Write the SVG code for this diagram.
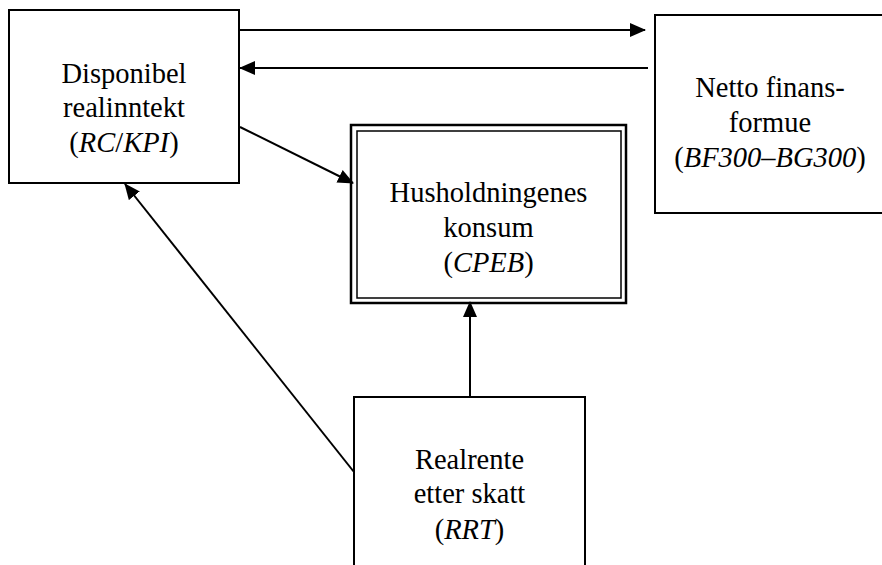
<svg xmlns="http://www.w3.org/2000/svg" width="882" height="565" viewBox="0 0 882 565">
<style>
.box{fill:#fff;stroke:#000;stroke-width:2}
.t{font-family:"Liberation Serif","Times New Roman",serif;font-size:28.5px;fill:#000;text-anchor:middle}
.i{font-style:italic}
.c{stroke:#000;stroke-width:2;fill:none}
</style>
<defs>
<marker id="ah" markerUnits="userSpaceOnUse" markerWidth="16" markerHeight="14" viewBox="0 0 16 14" refX="15" refY="7" orient="auto">
<path d="M0,0 L16,7 L0,14 Z" fill="#000"/>
</marker>
</defs>
<g id="disponibel">
<rect class="box" x="9" y="10" width="230" height="173"/>
<text class="t" x="124" y="83">Disponibel</text>
<text class="t" x="124" y="117">realinntekt</text>
<text class="t" x="124" y="152">(<tspan class="i">RC</tspan>/<tspan class="i">KPI</tspan>)</text>
</g>
<g id="netto">
<rect class="box" x="655" y="15" width="232" height="198"/>
<text class="t" x="770" y="97">Netto finans-</text>
<text class="t" x="770" y="132">formue</text>
<text class="t" x="770" y="167">(<tspan class="i">BF300–BG300</tspan>)</text>
</g>
<g id="husholdning">
<rect x="351" y="125" width="275" height="178" fill="#fff" stroke="#000" stroke-width="2.5"/>
<rect x="357" y="131" width="264" height="167" fill="none" stroke="#000" stroke-width="1.5"/>
<text class="t" x="488.5" y="202">Husholdningenes</text>
<text class="t" x="488.5" y="237">konsum</text>
<text class="t" x="488.5" y="272">(<tspan class="i">CPEB</tspan>)</text>
</g>
<g id="realrente">
<rect class="box" x="354" y="397" width="231" height="180"/>
<text class="t" x="469.5" y="469">Realrente</text>
<text class="t" x="469.5" y="503">etter skatt</text>
<text class="t" x="469.5" y="539">(<tspan class="i">RRT</tspan>)</text>
</g>
<g id="connectors">
<line class="c" x1="240" y1="30" x2="645" y2="30" marker-end="url(#ah)"/>
<line class="c" x1="648" y1="68" x2="240" y2="68" marker-end="url(#ah)"/>
<line class="c" x1="240" y1="127" x2="353" y2="183" marker-end="url(#ah)"/>
<line class="c" x1="354" y1="472" x2="125" y2="184" marker-end="url(#ah)"/>
<line class="c" x1="470" y1="397" x2="470" y2="302" marker-end="url(#ah)"/>
</g>
</svg>
